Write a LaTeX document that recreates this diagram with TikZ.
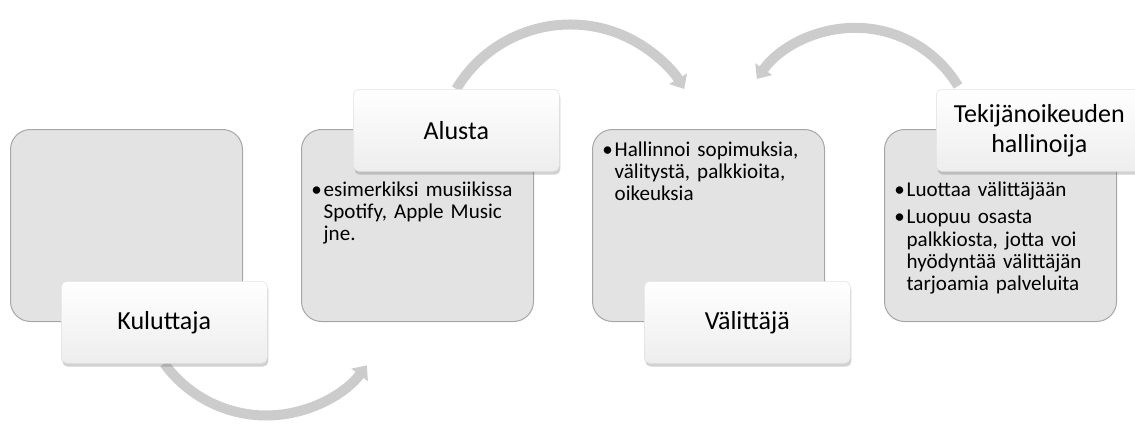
\documentclass[tikz,border=0pt]{standalone}
\usepackage{fontspec}
\setmainfont{Carlito}
\usetikzlibrary{arrows.meta,shadows,calc,backgrounds}
\newcommand{\bitem}[1]{\noindent\parshape=0\relax\hangindent=9.3pt\relax\hangafter=1\relax
    \makebox[9.3pt][l]{\textbullet}#1\par}

\begin{document}
\begin{tikzpicture}[x=0.75pt,y=-0.75pt,
    panel/.style={draw=black!35, fill=black!11, line width=0.75pt, rounded corners=15pt,
        minimum width=174pt, minimum height=144pt, anchor=north west, inner sep=0pt},
    titlebox/.style={draw=black!12, top color=white, bottom color=black!7, rounded corners=4pt,
        minimum width=154.5pt, minimum height=61.5pt, anchor=north west, inner sep=0pt,
        align=center, font=\fontsize{19.5}{22.5}\selectfont,
        drop shadow={shadow xshift=0.8pt, shadow yshift=-2.5pt, opacity=0.3, fill=black!60}},
    bodytext/.style={anchor=base west, inner sep=0pt, text width=165pt,
        font=\fontsize{15.8}{16.8}\selectfont},
    flowarrow/.style={draw=black!20, line width=7.5pt, -{Triangle[length=9pt,width=15pt]}}
]
    \useasboundingbox (0,0) rectangle (1135,426);
    \clip (0,0) rectangle (1135,426);

    % grey panels
    \node[panel] (p1) at (10,129) {};
    \node[panel] (p2) at (301,129) {};
    \node[panel] (p3) at (592,129) {};
    \node[panel] (p4) at (884,129) {};

    % panel texts
    \node[bodytext] (t2) at ($(p2.north west)+(10,67)$)
        {\raggedright\bitem{esimerkiksi musiikissa\newline Spotify, Apple Music\newline jne.}};
    \node[bodytext] (t3) at ($(p3.north west)+(10,27)$)
        {\raggedright\bitem{Hallinnoi sopimuksia,\newline välitystä, palkkioita,\newline oikeuksia}};
    \node[bodytext] (t4) at ($(p4.north west)+(10,67)$)
        {\raggedright\bitem{Luottaa välittäjään}\vspace{4pt}%
         \bitem{Luopuu osasta\newline palkkiosta, jotta voi\newline hyödyntää välittäjän\newline tarjoamia palveluita}};

    % title boxes
    \node[titlebox] (kul) at (61,281) {Kuluttaja};
    \node[titlebox] (alu) at (353,89) {Alusta};
    \node[titlebox] (val) at (644,281) {Välittäjä};
    \node[titlebox] (tek) at (936,89) {Tekijänoikeuden\\hallinoija};

    % curved arrows
    \begin{scope}[on background layer]
        \draw[flowarrow] (kul.south) arc[start angle=144, end angle=37, radius=126];
        \draw[flowarrow] (alu.north) arc[start angle=-149, end angle=-31, radius=133];
        \draw[flowarrow] ($(tek.north west)+(22,-3)$) arc[start angle=-31, end angle=-145, radius=120];
    \end{scope}
\end{tikzpicture}
\end{document}
